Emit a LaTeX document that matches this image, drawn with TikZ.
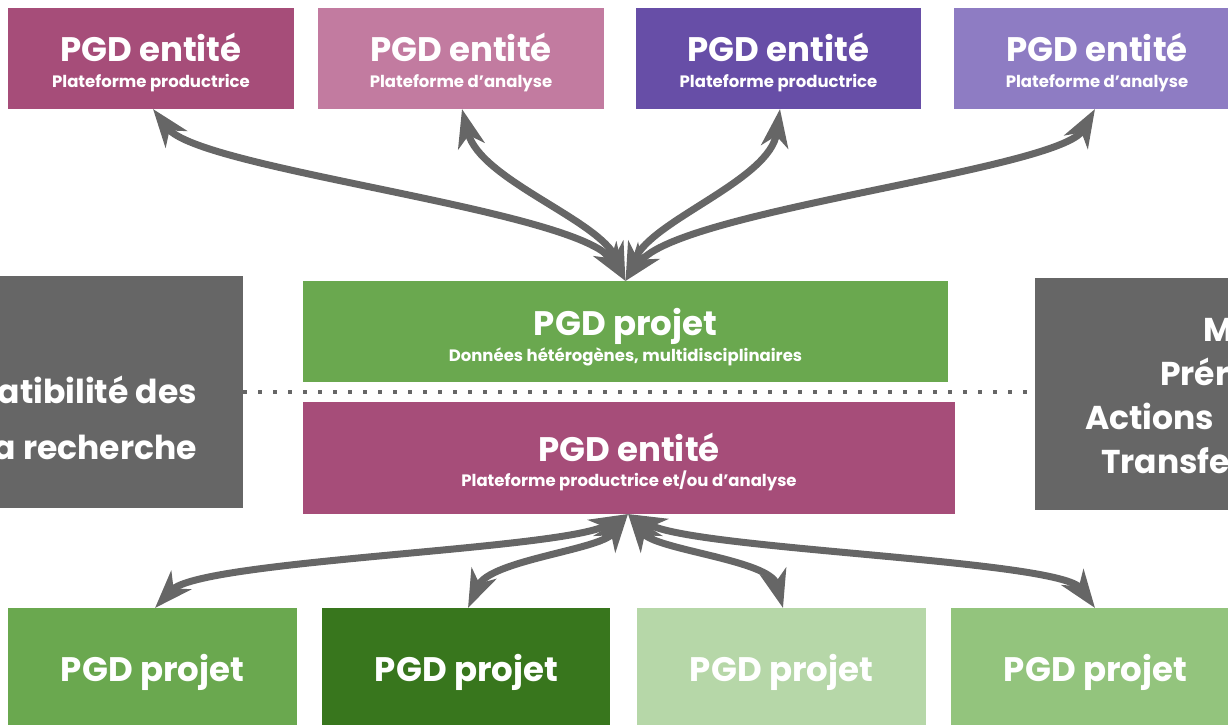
\documentclass[tikz,border=0pt]{standalone}
\usepackage{fontspec}
\setmainfont{Poppins}[Ligatures=NoCommon]
\usetikzlibrary{arrows.meta,calc}
\definecolor{cMag}{HTML}{A64D79}
\definecolor{cPink}{HTML}{C27BA0}
\definecolor{cPurple}{HTML}{674EA7}
\definecolor{cLav}{HTML}{8E7CC3}
\definecolor{cGreen}{HTML}{6AA84F}
\definecolor{cDGreen}{HTML}{38761D}
\definecolor{cLGreen}{HTML}{B6D7A8}
\definecolor{cMGreen}{HTML}{93C47D}
\definecolor{cGray}{HTML}{666666}
\tikzset{
  box/.style={draw=none, anchor=north west, inner sep=0pt, outer sep=0pt},
  ttl/.style={text=white, anchor=base, inner sep=0pt, font=\bfseries\fontsize{34}{34}\selectfont},
  subt/.style={text=white, anchor=base, inner sep=0pt, font=\bfseries\fontsize{16.5}{16.5}\selectfont},
  side/.style={text=white, inner sep=0pt, font=\bfseries\fontsize{33}{33}\selectfont},
  tip/.tip={Stealth[length=38pt,width=27pt,inset=11pt]},
  link/.style={draw=cGray, line width=7pt, tip-tip},
}
\begin{document}
\begin{tikzpicture}[x=1pt,y=-1pt]
\useasboundingbox (0,0) rectangle (1228,725);
\clip (0,0) rectangle (1228,725);

% side boxes and dotted separator
\node[box, fill=cGray, minimum width=303pt, minimum height=232pt] (lg) at (-60,276) {};
\node[box, fill=cGray, minimum width=260pt, minimum height=232pt] (rg) at (1035,278) {};
\draw[cGray, line width=4pt, dash pattern=on 4pt off 11pt] (lg.east |- 0,392) -- (rg.west |- 0,392);

% top boxes
\node[box, fill=cMag,    minimum width=286pt, minimum height=101pt] (t1) at (8,8) {};
\node[box, fill=cPink,   minimum width=286pt, minimum height=101pt] (t2) at (318,8) {};
\node[box, fill=cPurple, minimum width=285pt, minimum height=101pt] (t3) at (636,8) {};
\node[box, fill=cLav,    minimum width=286pt, minimum height=101pt] (t4) at (954,8) {};
\foreach \b/\s in {t1/Plateforme productrice, t2/Plateforme d'analyse, t3/Plateforme productrice, t4/Plateforme d'analyse}{
  \node[ttl] (\b a) at (\b.north |- 0,61) {PGD entité};
  \node[subt] (\b b) at (\b.north |- 0,87.3) {\s};
}

% middle boxes
\node[box, fill=cGreen, minimum width=645pt, minimum height=101pt] (mp) at (303,281) {};
\node[ttl] (mpa) at (mp.north |- 0,335) {PGD projet};
\node[subt] (mpb) at (mp.north |- 0,361) {Données hétérogènes, multidisciplinaires};
\node[box, fill=cMag, minimum width=652pt, minimum height=112pt] (me) at (303,402) {};
\node[ttl] (mea) at (me.north |- 0,461.7) {PGD entité};
\node[subt] (meb) at (me.north |- 0,486.7) {Plateforme productrice et/ou d'analyse};

% side texts
\node[side, anchor=base east] (lg1) at (197,403) {atibilité des};
\node[side, anchor=base east] (lg2) at (197,459) {a recherche};
\node[side, anchor=base west] (rg1) at (1203,341) {M};
\node[side, anchor=base west] (rg2) at (1160,385) {Prér};
\node[side, anchor=base west] (rg3) at (1085,429) {Actions};
\node[side, anchor=base west] (rg4) at (1101,473) {Transfe};

% bottom boxes
\node[box, fill=cGreen,  minimum width=289pt, minimum height=130pt] (b1) at (8,608) {};
\node[box, fill=cDGreen, minimum width=288pt, minimum height=130pt] (b2) at (322,608) {};
\node[box, fill=cLGreen, minimum width=289pt, minimum height=130pt] (b3) at (637,608) {};
\node[box, fill=cMGreen, minimum width=290pt, minimum height=130pt] (b4) at (951,608) {};
\foreach \b in {b1,b2,b3,b4}{
  \node[ttl] (\b a) at ($(\b.north west)+(144.5,73.7)$) {PGD projet};
}

% arrows top
\draw[link] (mp.north) .. controls (580,210) and (200,170) .. (t1.south -| 153,0);
\draw[link] (mp.north) .. controls (600,220) and (480,180) .. (t2.south -| 462,0);
\draw[link] (mp.north) .. controls (652,220) and (770,180) .. (t3.south -| 780,0);
\draw[link] (mp.north) .. controls (680,210) and (1060,170) .. (t4.south -| 1095,0);
% arrows bottom
\draw[link] (me.south -| 628,0) .. controls (560,550) and (200,560) .. (b1.north -| 155,0);
\draw[link] (me.south -| 628,0) .. controls (600,550) and (490,560) .. (b2.north -| 468,0);
\draw[link] (me.south -| 628,0) .. controls (656,550) and (770,560) .. (b3.north -| 783,0);
\draw[link] (me.south -| 628,0) .. controls (700,550) and (1060,560) .. (b4.north -| 1095,0);
\end{tikzpicture}
\end{document}
